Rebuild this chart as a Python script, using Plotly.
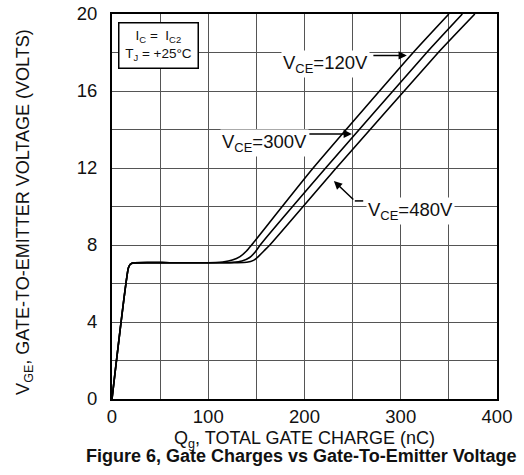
import plotly.graph_objects as go

# Shared part of the gate-charge curve (rise + Miller plateau)
common_q = [0, 17, 19, 22, 60, 100]
common_v = [0, 6.8, 7.0, 7.07, 7.08, 7.08]

# Continuations for each V_CE
q_120 = [108, 115, 125, 133, 140, 145, 209, 313, 350]
v_120 = [7.09, 7.12, 7.22, 7.4, 7.7, 8.0, 12.0, 18.0, 20.0]
q_300 = [118, 125, 135, 143, 149, 154, 222, 327, 364]
v_300 = [7.08, 7.1, 7.17, 7.35, 7.65, 8.0, 12.0, 18.0, 20.0]
q_480 = [130, 140, 147, 152, 158, 164, 233, 339, 377]
v_480 = [7.08, 7.1, 7.2, 7.4, 7.7, 8.0, 12.0, 18.0, 20.0]

x_ticks = [0, 100, 200, 300, 400]
y_ticks = [0, 4, 8, 12, 16, 20]

FONT = "Liberation Sans, Arial, sans-serif"

fig = go.Figure()
for qs, vs in [(q_120, v_120), (q_300, v_300), (q_480, v_480)]:
    fig.add_trace(go.Scatter(
        x=common_q + qs, y=common_v + vs, mode="lines",
        line=dict(color="black", width=1.6, shape="spline", smoothing=0.5),
        showlegend=False, hoverinfo="skip"))

grid = "#555555"
fig.update_xaxes(range=[0, 400], tickvals=x_ticks, showgrid=True, gridcolor=grid, gridwidth=1,
                 minor=dict(dtick=50, showgrid=True, gridcolor=grid, gridwidth=1),
                 showline=True, mirror=True, linecolor="black", linewidth=2,
                 zeroline=False, ticks="", ticklabelstandoff=0, automargin=False,
                 tickfont=dict(family=FONT, size=18.5, color="#111"))
fig.update_yaxes(range=[0, 20], tickvals=y_ticks, showgrid=True, gridcolor=grid, gridwidth=1,
                 minor=dict(dtick=2, showgrid=True, gridcolor=grid, gridwidth=1),
                 showline=True, mirror=True, linecolor="black", linewidth=2,
                 zeroline=False, ticks="", ticklabelstandoff=9, automargin=False,
                 tickfont=dict(family=FONT, size=18.5, color="#111"))

ann = []
# axis titles and figure caption
ann.append(dict(xref="paper", yref="paper", x=0.5, y=-0.104, xanchor="center", yanchor="middle",
                text="Q<sub>g</sub>, TOTAL GATE CHARGE (nC)", showarrow=False,
                font=dict(family=FONT, size=18, color="#111")))
ann.append(dict(xref="paper", yref="paper", x=-0.226, y=0.486, xanchor="center", yanchor="middle",
                text="V<sub>GE</sub>, GATE-TO-EMITTER VOLTAGE (VOLTS)", textangle=-90, showarrow=False,
                font=dict(family=FONT, size=18, color="#111")))
ann.append(dict(xref="paper", yref="paper", x=0.491, y=-0.148, xanchor="center", yanchor="middle",
                text="<b>Figure 6, Gate Charges vs Gate-To-Emitter Voltage</b>", showarrow=False,
                font=dict(family=FONT, size=18, color="#111")))
# condition box
ann.append(dict(xref="paper", yref="paper", x=0.122, y=0.918, xanchor="center", yanchor="middle",
                text="I<sub>C</sub> =  I<sub>C2</sub><br>T<sub>J</sub> = +25°C", showarrow=False,
                align="center", bgcolor="white", bordercolor="black", borderwidth=1.5, borderpad=3,
                width=72, height=38,
                font=dict(family=FONT, size=13.5, color="#111")))
# curve labels
for tx, ty, lab in [(221.7, 17.4, "V<sub>CE</sub>=120V"),
                    (158, 13.3, "V<sub>CE</sub>=300V"),
                    (310, 9.77, "V<sub>CE</sub>=480V")]:
    ann.append(dict(x=tx, y=ty, xref="x", yref="y", text=lab, showarrow=False,
                    bgcolor="white", borderpad=1, xanchor="center", yanchor="middle",
                    font=dict(family=FONT, size=18.5, color="#111")))
# leader arrows
for (x0, y0, x1, y1) in [(270, 17.85, 306.3, 17.85),
                         (203.5, 13.77, 249.2, 13.77),
                         (252.3, 10.29, 230.5, 11.32)]:
    ann.append(dict(x=x1, y=y1, ax=x0, ay=y0, xref="x", yref="y", axref="x", ayref="y",
                    text="", showarrow=True, arrowhead=2, arrowsize=1.1, arrowwidth=1.5,
                    arrowcolor="black", standoff=0, startstandoff=0))

fig.add_shape(type="line", x0=252.3, y0=10.29, x1=261, y1=10.29, xref="x", yref="y",
              line=dict(color="black", width=1.5))

fig.update_layout(width=524, height=475, margin=dict(l=112, r=27, t=14, b=76, autoexpand=False),
                  paper_bgcolor="white", plot_bgcolor="white", annotations=ann,
                  font=dict(family=FONT))

fig.write_html("out.html", config={"displayModeBar": False, "staticPlot": True},
               post_script="document.body.style.margin='0';document.body.style.overflow='hidden';")
